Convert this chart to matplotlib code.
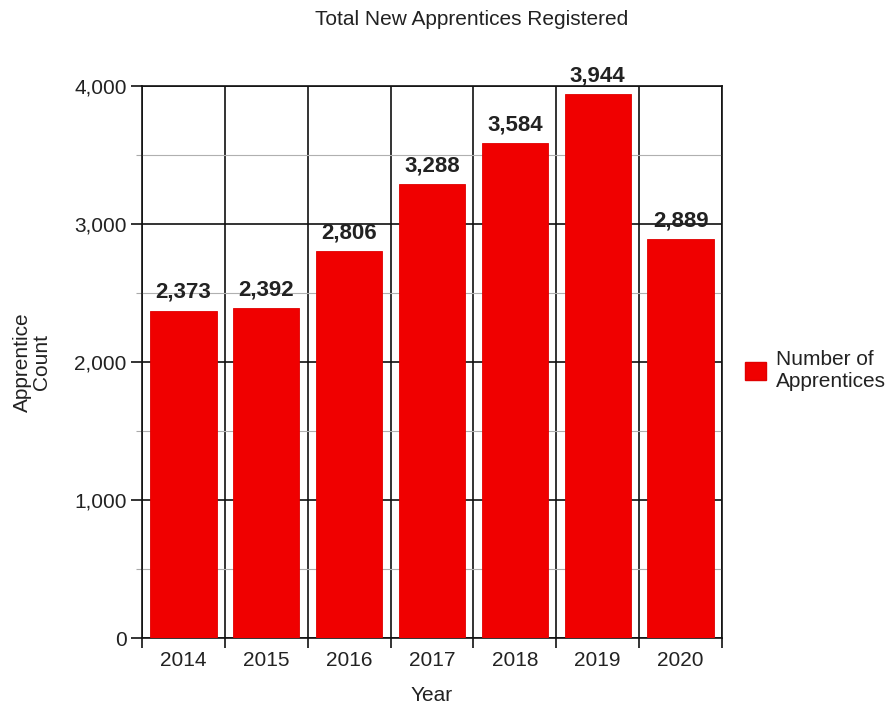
import matplotlib.pyplot as plt
from matplotlib.ticker import FixedLocator, FuncFormatter
from matplotlib.patches import Patch

years = ["2014", "2015", "2016", "2017", "2018", "2019", "2020"]
counts = [2373, 2392, 2806, 3288, 3584, 3944, 2889]

plt.rcParams['font.family'] = ['Liberation Sans', 'DejaVu Sans']

fig = plt.figure(figsize=(8.94, 7.06), dpi=100)
ax = fig.add_axes([0.1588, 0.0963, 0.6488, 0.7819])

x = list(range(len(years)))
bars = ax.bar(x, counts, width=0.8, color="#f00000", edgecolor="#e00000", linewidth=0.6, zorder=3)

ax.set_xlim(-0.5, len(years) - 0.5)
ax.set_ylim(0, 4000)

# category boundaries as black vertical lines
ax.xaxis.set_major_locator(FixedLocator(x))
ax.set_xticklabels(years, fontsize=15, color="#222222")
ax.xaxis.set_minor_locator(FixedLocator([i - 0.5 for i in range(len(years) + 1)]))
ax.tick_params(axis="x", which="major", length=0, pad=9)
ax.tick_params(axis="x", which="minor", length=7, width=1.2, color="#111111")
ax.grid(axis="x", which="minor", color="#111111", linewidth=1.2, zorder=1)

ax.yaxis.set_major_locator(FixedLocator([0, 1000, 2000, 3000, 4000]))
ax.yaxis.set_minor_locator(FixedLocator([500, 1500, 2500, 3500]))
ax.yaxis.set_major_formatter(FuncFormatter(lambda v, p: f"{int(v):,}"))
ax.tick_params(axis="y", which="major", length=8, width=1.2, color="#111111", labelsize=15, labelcolor="#222222", pad=3)
ax.tick_params(axis="y", which="minor", length=4, width=0.8, color="#aaaaaa")
ax.grid(axis="y", which="major", color="#111111", linewidth=1.2, zorder=1)
ax.grid(axis="y", which="minor", color="#b0b0b0", linewidth=0.8, zorder=1)

for s in ax.spines.values():
    s.set_color("#111111")
    s.set_linewidth(1.2)

for xi, c in zip(x, counts):
    ax.text(xi, c + 55, f"{c:,}", ha="center", va="bottom", fontsize=16, fontweight="bold", color="#222222", zorder=4)

ax.set_xlabel("Year", fontsize=15, color="#222222", labelpad=12)
ax.set_ylabel("Apprentice\nCount", fontsize=15, color="#222222", labelpad=17, linespacing=0.95)
fig.text(0.528, 0.972, "Total New Apprentices Registered", ha="center", va="center", fontsize=15, color="#222222")

handle = Patch(facecolor="#f00000", edgecolor="#e00000", label="Number of\nApprentices")
fig.legend(handles=[handle], loc="center left", bbox_to_anchor=(0.812, 0.475), frameon=False,
           fontsize=15, handlelength=1.0, handleheight=1.0, handletextpad=0.5, labelcolor="#222222")

fig.savefig("out.png", dpi=100)
